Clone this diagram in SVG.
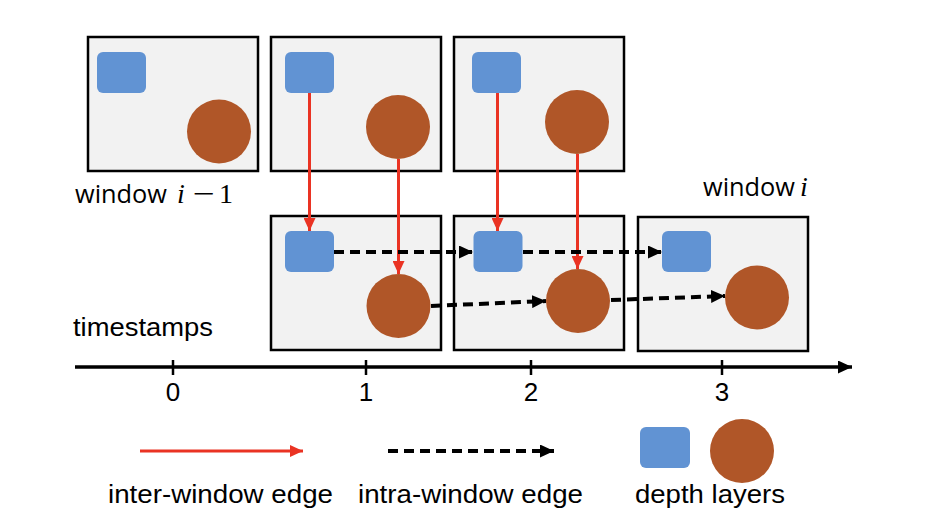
<svg xmlns="http://www.w3.org/2000/svg" width="944" height="520" viewBox="0 0 944 520">
<defs>
<style>
.box{fill:#f2f2f2;stroke:#000;stroke-width:2.5}
.sq{fill:#6193d3}
.ci{fill:#b05628}
.red{stroke:#ea3323;stroke-width:3;fill:none}
.dash{stroke:#000;stroke-width:4;stroke-dasharray:10,6;fill:none}
.t{font-family:"Liberation Sans",Arial,sans-serif;font-size:26px;fill:#000}
.w{font-family:"Open Sans","Noto Sans",sans-serif;font-size:26px;fill:#000}
.m{font-family:"Liberation Serif","DejaVu Serif",serif;font-size:28px;fill:#000}
</style>
<marker id="ar" markerUnits="userSpaceOnUse" markerWidth="13" markerHeight="12" refX="13" refY="6" orient="auto"><path d="M0,0 L13,6 L0,12 z" fill="#ea3323"/></marker>
<marker id="ab" markerUnits="userSpaceOnUse" markerWidth="14" markerHeight="13" refX="14" refY="6.5" orient="auto"><path d="M0,0 L14,6.5 L0,13 z" fill="#000"/></marker>
</defs>
<rect width="944" height="520" fill="#fff"/>
<g id="win-top-0"><rect class="box" x="88" y="37" width="170" height="134"/><rect class="sq" x="97" y="52" width="49" height="41" rx="6"/><circle class="ci" cx="219" cy="131.5" r="32"/></g>
<g id="win-top-1"><rect class="box" x="271" y="37" width="170" height="134"/><rect class="sq" x="285" y="52" width="49" height="41" rx="6"/><circle class="ci" cx="398" cy="127" r="32"/></g>
<g id="win-top-2"><rect class="box" x="454" y="37" width="170" height="134"/><rect class="sq" x="472" y="52" width="49" height="41" rx="6"/><circle class="ci" cx="577" cy="122" r="32"/></g>
<g id="win-bot-1"><rect class="box" x="271" y="216" width="170" height="134"/><rect class="sq" x="285" y="231" width="49" height="41" rx="6"/><circle class="ci" cx="398.5" cy="306" r="32"/></g>
<g id="win-bot-2"><rect class="box" x="454" y="216" width="170" height="134"/><rect class="sq" x="473.5" y="231" width="49" height="41" rx="6"/><circle class="ci" cx="578" cy="301" r="32"/></g>
<g id="win-bot-3"><rect class="box" x="638" y="217" width="170" height="134"/><rect class="sq" x="662" y="231" width="49" height="41" rx="6"/><circle class="ci" cx="757" cy="297.5" r="32"/></g>
<g id="connectors">
<line class="red" x1="309.5" y1="93" x2="309.5" y2="231" marker-end="url(#ar)"/>
<line class="red" x1="398.5" y1="159" x2="398.5" y2="274" marker-end="url(#ar)"/>
<line class="red" x1="497.5" y1="93" x2="497.5" y2="231" marker-end="url(#ar)"/>
<line class="red" x1="577.5" y1="154" x2="577.5" y2="269" marker-end="url(#ar)"/>
<line class="dash" x1="334" y1="252" x2="473" y2="252" marker-end="url(#ab)"/>
<line class="dash" x1="523" y1="252" x2="662" y2="252" marker-end="url(#ab)"/>
<line class="dash" x1="431" y1="306" x2="546" y2="301" marker-end="url(#ab)"/>
<line class="dash" x1="611" y1="300" x2="725" y2="296" marker-end="url(#ab)"/>
</g>
<g id="axis">
<line x1="75" y1="367" x2="852" y2="367" stroke="#000" stroke-width="3.5" marker-end="url(#ab)"/>
<g stroke="#000" stroke-width="2.5"><line x1="173" y1="360" x2="173" y2="375"/><line x1="366" y1="360" x2="366" y2="375"/><line x1="531" y1="360" x2="531" y2="375"/><line x1="722" y1="360" x2="722" y2="375"/></g>
<g class="t" text-anchor="middle"><text x="173" y="401">0</text><text x="366" y="401">1</text><text x="531" y="401">2</text><text x="722" y="401">3</text></g>
</g>
<text class="t" x="73" y="336" textLength="140" lengthAdjust="spacingAndGlyphs">timestamps</text>
<text x="75" y="203"><tspan class="w" textLength="92" lengthAdjust="spacingAndGlyphs">window</tspan><tspan class="m" x="177" font-style="italic">i</tspan><tspan class="m" x="193" textLength="22" lengthAdjust="spacingAndGlyphs">−</tspan><tspan class="m" x="219">1</tspan></text>
<text x="703" y="196"><tspan class="w" textLength="92" lengthAdjust="spacingAndGlyphs">window</tspan><tspan class="m" x="800" font-style="italic">i</tspan></text>
<g id="legend">
<line class="red" x1="140" y1="451" x2="303" y2="451" marker-end="url(#ar)"/>
<line class="dash" x1="388" y1="451" x2="554" y2="451" stroke-dasharray="9,5" stroke-width="3.5" marker-end="url(#ab)"/>
<rect class="sq" x="640" y="427" width="50" height="41" rx="6"/>
<circle class="ci" cx="742" cy="451" r="32"/>
<text class="t" x="108" y="503" textLength="225" lengthAdjust="spacingAndGlyphs">inter-window edge</text>
<text class="t" x="358" y="503" textLength="225" lengthAdjust="spacingAndGlyphs">intra-window edge</text>
<text class="t" x="635" y="503" textLength="150" lengthAdjust="spacingAndGlyphs">depth layers</text>
</g>
</svg>
